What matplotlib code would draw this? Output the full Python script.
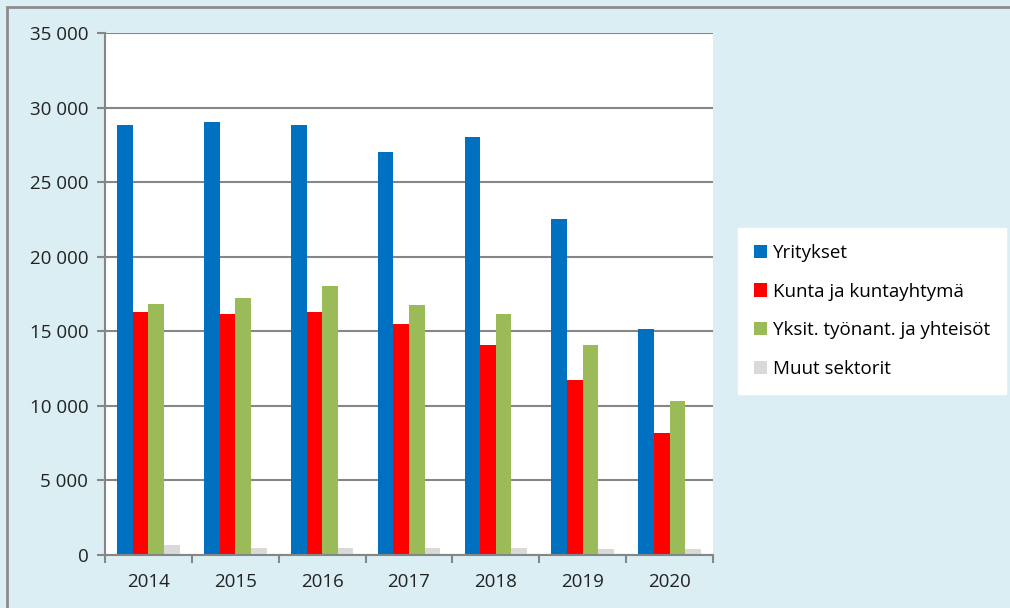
import matplotlib.pyplot as plt
import matplotlib.patches as mpatches
import numpy as np

years = ["2014", "2015", "2016", "2017", "2018", "2019", "2020"]
yritykset = [28850, 29000, 28850, 27050, 28050, 22500, 15150]
kunta = [16300, 16150, 16300, 15500, 14050, 11750, 8200]
yksit = [16800, 17250, 18050, 16750, 16150, 14050, 10350]
muut = [650, 450, 450, 450, 450, 380, 380]

series = [yritykset, kunta, yksit, muut]
names = ["Yritykset", "Kunta ja kuntayhtymä", "Yksit. työnant. ja yhteisöt", "Muut sektorit"]
colors = ["#0070C0", "#FF0000", "#9BBB59", "#D9D9D9"]

plt.rcParams['font.family'] = ['Open Sans', 'DejaVu Sans']
bg = "#DAEEF3"
W, H = 1010, 608
fig = plt.figure(figsize=(W / 100, H / 100), dpi=100)
fig.patch.set_facecolor(bg)
# outer frame line (top/left visible)
fig.add_artist(mpatches.Rectangle((7 / W, -0.05), 1.1, 1 - 7 / H + 0.05, transform=fig.transFigure,
                                  facecolor="none", edgecolor="#8C8C8C", linewidth=2))

ax = fig.add_axes([105 / W, 1 - 555 / H, (713 - 105) / W, (555 - 33) / H])
ax.set_facecolor("white")

x = np.arange(len(years))
bw = 0.18
for i, (vals, name, c) in enumerate(zip(series, names, colors)):
    ax.bar(x + (i - 1.5) * bw, vals, bw, color=c, label=name)

ax.set_xlim(-0.5, len(years) - 0.5)
ax.set_ylim(0, 35000)
ax.set_yticks(np.arange(0, 35001, 5000))
ax.set_yticklabels([f"{v:,}".replace(",", " ") for v in range(0, 35001, 5000)])
ax.yaxis.grid(True, color="#868686", linewidth=1.5)
ax.set_axisbelow(True)

ax.set_xticks(x)
ax.set_xticklabels(years)
ax.set_xticks(np.arange(-0.5, len(years), 1), minor=True)
ax.tick_params(axis="x", which="major", length=0, pad=13, labelsize=13.5, colors="#222222")
ax.tick_params(axis="x", which="minor", length=6, width=1.5, color="#868686", direction="out")
ax.tick_params(axis="y", length=6, width=1.5, color="#868686", labelsize=13.5, labelcolor="#222222", pad=6)

for s in ["top", "right"]:
    ax.spines[s].set_visible(False)
for s in ["left", "bottom"]:
    ax.spines[s].set_color("#868686")
    ax.spines[s].set_linewidth(1.5)

leg = fig.legend(loc="upper left", bbox_to_anchor=(738 / W, 1 - 228 / H), frameon=True, fancybox=False,
                 fontsize=13.5, handlelength=0.7, handleheight=0.7, handletextpad=0.3,
                 labelspacing=1.1, borderpad=0.85, borderaxespad=0)
leg.get_frame().set_facecolor("white")
leg.get_frame().set_edgecolor("white")
leg.get_frame().set_alpha(1)

fig.savefig("out.png", dpi=100, facecolor=bg)
